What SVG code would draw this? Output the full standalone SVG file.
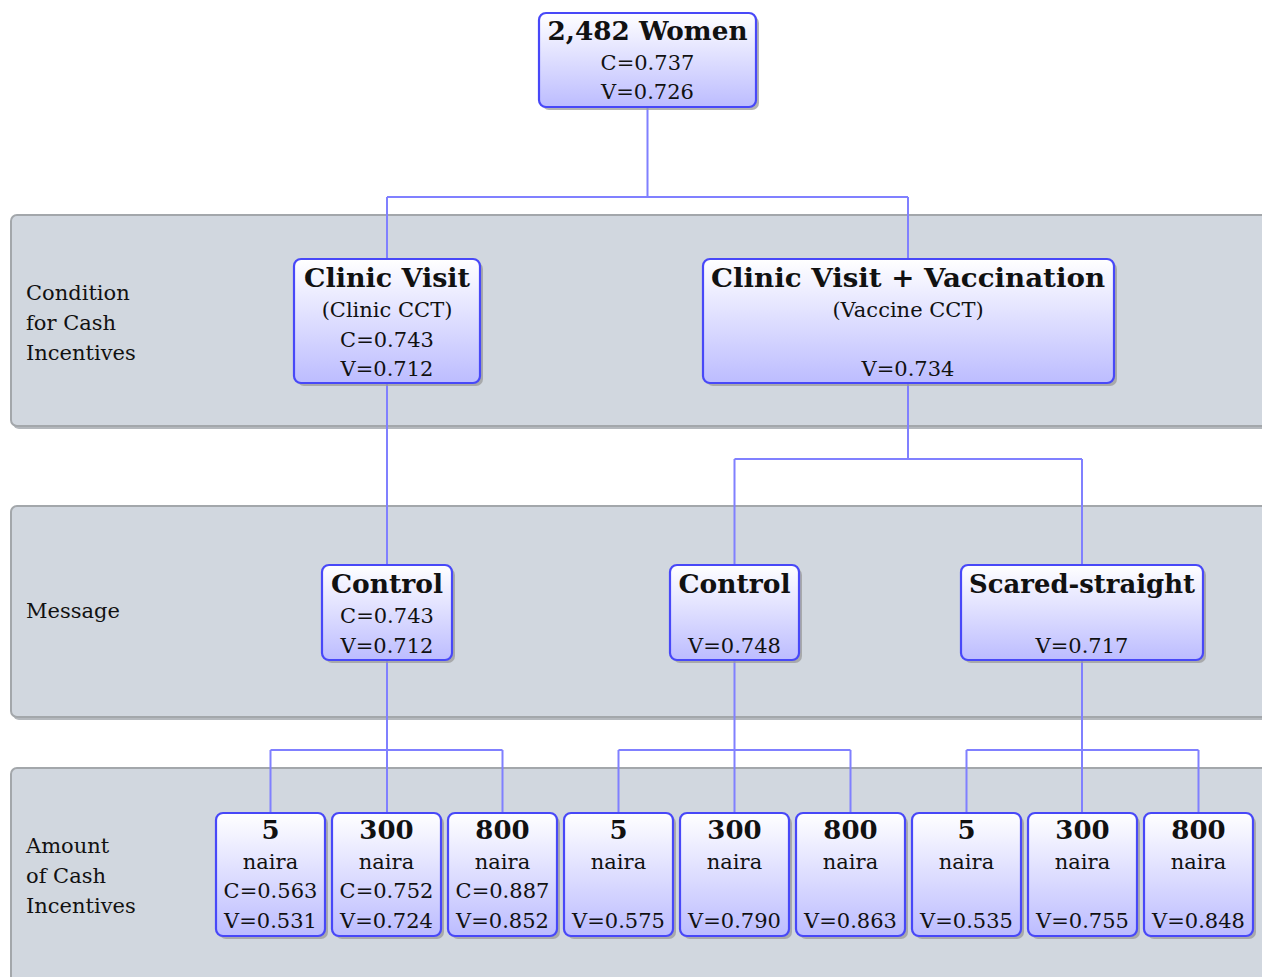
<svg xmlns="http://www.w3.org/2000/svg" width="1262" height="977" viewBox="0 0 1262 977" font-family="'DejaVu Serif', serif">
<defs>
<linearGradient id="ng" x1="0" y1="0" x2="0" y2="1">
<stop offset="0" stop-color="#ffffff"/>
<stop offset="1" stop-color="#bcbcff"/>
</linearGradient>
<style>
.band{fill:#d1d7df;stroke:#a3a7ab;stroke-width:2}
.bsh{fill:#b4b8bd}
.node{fill:url(#ng);stroke:#4848f8;stroke-width:2.2}
.nsh{fill:#9a9a9a;opacity:0.75}
.con{fill:none;stroke:#8080ff;stroke-width:2}
text{font-family:'DejaVu Serif', serif;font-size:21px;fill:#111}
.t{text-anchor:middle}
.b{font-weight:bold;font-size:26px}
</style>
</defs>
<rect width="1262" height="977" fill="#ffffff"/>
<g id="bands">
<rect class="bsh" x="13" y="217" width="1270" height="212" rx="6"/>
<rect class="band" x="11" y="215" width="1270" height="211" rx="6"/>
<rect class="bsh" x="13" y="508" width="1270" height="212" rx="6"/>
<rect class="band" x="11" y="506" width="1270" height="211" rx="6"/>
<rect class="bsh" x="13" y="770" width="1270" height="230" rx="6"/>
<rect class="band" x="11" y="768" width="1270" height="230" rx="6"/>
<text x="26" y="300">Condition</text>
<text x="26" y="330">for Cash</text>
<text x="26" y="360">Incentives</text>
<text x="26" y="618">Message</text>
<text x="26" y="853">Amount</text>
<text x="26" y="883">of Cash</text>
<text x="26" y="913">Incentives</text>
</g>
<g id="connectors">
<path class="con" d="M647.5 107 V197 M387 197 H908 M387 197 V259 M908 197 V259"/>
<path class="con" d="M387 383 V565"/>
<path class="con" d="M908 383 V459 M734.5 459 H1082 M734.5 459 V565 M1082 459 V565"/>
<path class="con" d="M387 660 V813 M270.5 750 H502.5 M270.5 750 V813 M502.5 750 V813"/>
<path class="con" d="M734.5 660 V813 M618.5 750 H850.5 M618.5 750 V813 M850.5 750 V813"/>
<path class="con" d="M1082 660 V813 M966.5 750 H1198.5 M966.5 750 V813 M1198.5 750 V813"/>
</g>
<g id="n-root">
<rect class="nsh" x="542" y="16" width="217" height="94" rx="7"/>
<rect class="node" x="539" y="13" width="217" height="94" rx="7"/>
<text class="t b" x="647.5" y="40" textLength="200" lengthAdjust="spacingAndGlyphs">2,482 Women</text>
<text class="t" x="647.5" y="70">C=0.737</text>
<text class="t" x="647.5" y="99">V=0.726</text>
</g>
<g id="n-clinic">
<rect class="nsh" x="297" y="262" width="186" height="124" rx="7"/>
<rect class="node" x="294" y="259" width="186" height="124" rx="7"/>
<text class="t b" x="387" y="287" textLength="166" lengthAdjust="spacingAndGlyphs">Clinic Visit</text>
<text class="t" x="387" y="317">(Clinic CCT)</text>
<text class="t" x="387" y="347">C=0.743</text>
<text class="t" x="387" y="376">V=0.712</text>
</g>
<g id="n-vaccine">
<rect class="nsh" x="706" y="262" width="411" height="124" rx="7"/>
<rect class="node" x="703" y="259" width="411" height="124" rx="7"/>
<text class="t b" x="908" y="287" textLength="394" lengthAdjust="spacingAndGlyphs">Clinic Visit + Vaccination</text>
<text class="t" x="908" y="317">(Vaccine CCT)</text>
<text class="t" x="908" y="376">V=0.734</text>
</g>
<g id="n-control1">
<rect class="nsh" x="325" y="568" width="130" height="95" rx="7"/>
<rect class="node" x="322" y="565" width="130" height="95" rx="7"/>
<text class="t b" x="387" y="593" textLength="112" lengthAdjust="spacingAndGlyphs">Control</text>
<text class="t" x="387" y="623">C=0.743</text>
<text class="t" x="387" y="653">V=0.712</text>
</g>
<g id="n-control2">
<rect class="nsh" x="673" y="568" width="129" height="95" rx="7"/>
<rect class="node" x="670" y="565" width="129" height="95" rx="7"/>
<text class="t b" x="734.5" y="593" textLength="112" lengthAdjust="spacingAndGlyphs">Control</text>
<text class="t" x="734.5" y="653">V=0.748</text>
</g>
<g id="n-scared">
<rect class="nsh" x="964" y="568" width="242" height="95" rx="7"/>
<rect class="node" x="961" y="565" width="242" height="95" rx="7"/>
<text class="t b" x="1082" y="593" textLength="226" lengthAdjust="spacingAndGlyphs">Scared-straight</text>
<text class="t" x="1082" y="653">V=0.717</text>
</g>
<g id="n-a1">
<rect class="nsh" x="219" y="816" width="109" height="123" rx="7"/>
<rect class="node" x="216" y="813" width="109" height="123" rx="7"/>
<text class="t b" x="270.5" y="839">5</text>
<text class="t" x="270.5" y="869">naira</text>
<text class="t" x="270.5" y="898">C=0.563</text>
<text class="t" x="270.5" y="928">V=0.531</text>
</g>
<g id="n-a2">
<rect class="nsh" x="335" y="816" width="109" height="123" rx="7"/>
<rect class="node" x="332" y="813" width="109" height="123" rx="7"/>
<text class="t b" x="386.5" y="839">300</text>
<text class="t" x="386.5" y="869">naira</text>
<text class="t" x="386.5" y="898">C=0.752</text>
<text class="t" x="386.5" y="928">V=0.724</text>
</g>
<g id="n-a3">
<rect class="nsh" x="451" y="816" width="109" height="123" rx="7"/>
<rect class="node" x="448" y="813" width="109" height="123" rx="7"/>
<text class="t b" x="502.5" y="839">800</text>
<text class="t" x="502.5" y="869">naira</text>
<text class="t" x="502.5" y="898">C=0.887</text>
<text class="t" x="502.5" y="928">V=0.852</text>
</g>
<g id="n-b1">
<rect class="nsh" x="567" y="816" width="109" height="123" rx="7"/>
<rect class="node" x="564" y="813" width="109" height="123" rx="7"/>
<text class="t b" x="618.5" y="839">5</text>
<text class="t" x="618.5" y="869">naira</text>
<text class="t" x="618.5" y="928">V=0.575</text>
</g>
<g id="n-b2">
<rect class="nsh" x="683" y="816" width="109" height="123" rx="7"/>
<rect class="node" x="680" y="813" width="109" height="123" rx="7"/>
<text class="t b" x="734.5" y="839">300</text>
<text class="t" x="734.5" y="869">naira</text>
<text class="t" x="734.5" y="928">V=0.790</text>
</g>
<g id="n-b3">
<rect class="nsh" x="799" y="816" width="109" height="123" rx="7"/>
<rect class="node" x="796" y="813" width="109" height="123" rx="7"/>
<text class="t b" x="850.5" y="839">800</text>
<text class="t" x="850.5" y="869">naira</text>
<text class="t" x="850.5" y="928">V=0.863</text>
</g>
<g id="n-c1">
<rect class="nsh" x="915" y="816" width="109" height="123" rx="7"/>
<rect class="node" x="912" y="813" width="109" height="123" rx="7"/>
<text class="t b" x="966.5" y="839">5</text>
<text class="t" x="966.5" y="869">naira</text>
<text class="t" x="966.5" y="928">V=0.535</text>
</g>
<g id="n-c2">
<rect class="nsh" x="1031" y="816" width="109" height="123" rx="7"/>
<rect class="node" x="1028" y="813" width="109" height="123" rx="7"/>
<text class="t b" x="1082.5" y="839">300</text>
<text class="t" x="1082.5" y="869">naira</text>
<text class="t" x="1082.5" y="928">V=0.755</text>
</g>
<g id="n-c3">
<rect class="nsh" x="1147" y="816" width="109" height="123" rx="7"/>
<rect class="node" x="1144" y="813" width="109" height="123" rx="7"/>
<text class="t b" x="1198.5" y="839">800</text>
<text class="t" x="1198.5" y="869">naira</text>
<text class="t" x="1198.5" y="928">V=0.848</text>
</g>
</svg>
